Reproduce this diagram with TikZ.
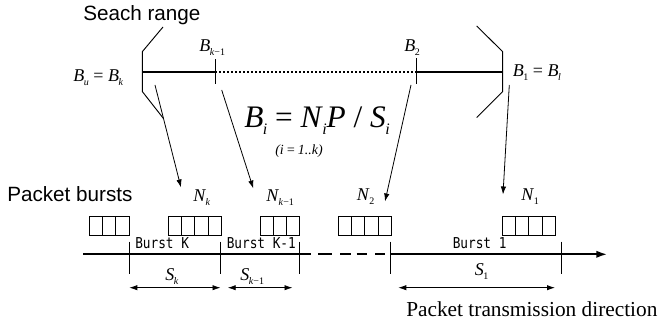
\documentclass[tikz,border=0pt]{standalone}
\usepackage{fontspec}
\setmainfont{Liberation Serif}
\newfontfamily\sansf{Liberation Sans}
\newfontfamily\burstfont[FakeStretch=0.85]{DejaVu Sans Mono}
\usetikzlibrary{arrows.meta}
\newcommand\mvar[2]{\textit{#1}\kern-0.02em\raisebox{-0.45ex}{\fontsize{7.5}{8}\selectfont #2}}
\newcommand\bvar[2]{\textit{#1}\kern-0.02em\raisebox{-0.5ex}{\fontsize{12}{13}\selectfont #2}}
\begin{document}
\begin{tikzpicture}[x=0.75pt,y=-0.75pt,
  lbl/.style={inner sep=0pt,font=\fontsize{13.5}{15}\selectfont},
  sanslbl/.style={inner sep=0pt,font=\sansf\fontsize{15.5}{18}\selectfont},
  burstlbl/.style={inner sep=0pt,font=\burstfont\fontsize{11.25}{13}\selectfont},
  lead/.style={line width=0.6pt,-{Latex[length=6pt,width=4pt]}},
  dim/.style={line width=0.6pt,{Latex[length=6pt,width=4pt]}-{Latex[length=6pt,width=4pt]}},
  bar/.style={line width=0.7pt},
  heavy/.style={line width=1.7pt},
  cell/.style={line width=0.6pt}]
\useasboundingbox (0,0) rectangle (665,331);

% ---- labels ----
\node[sanslbl,anchor=base west] (search) at (83,21) {Seach range};
\node[sanslbl,anchor=base west] (bursts) at (7,201.5) {Packet bursts};
\node[inner sep=0pt,anchor=base west,font=\fontsize{16}{19}\selectfont] (dir) at (406,316.5) {Packet transmission direction};

\node[lbl,anchor=base west] (bu) at (73,81.5) {\mvar{B}{\textit{u}} = \mvar{B}{\textit{k}}};
\node[lbl,anchor=base west] (bkm) at (199,51.5) {\mvar{B}{\textit{k}−1}};
\node[lbl,anchor=base west] (b2) at (404,51.5) {\mvar{B}{2}};
\node[lbl,anchor=base west] (b1) at (512.5,76.5) {\mvar{B}{1} = \mvar{B}{\textit{l}}};

\node[inner sep=0pt,anchor=base west,font=\fontsize{23.5}{27}\selectfont] (formula) at (244,127.5)
  {\bvar{B}{\textit{i}} = \bvar{N}{\textit{i}}\textit{P} / \bvar{S}{\textit{i}}};
\node[inner sep=0pt,anchor=base west,font=\itshape\fontsize{10.5}{12}\selectfont] (range) at (275,155) {(i\,=\,1..k)};

\node[lbl,anchor=base west] (nk) at (193,202) {\mvar{N}{\textit{k}}};
\node[lbl,anchor=base west] (nkm) at (266,202) {\mvar{N}{\textit{k}−1}};
\node[lbl,anchor=base west] (n2) at (356.5,201) {\mvar{N}{2}};
\node[lbl,anchor=base west] (n1) at (521,201) {\mvar{N}{1}};

\node[lbl,anchor=base west] (sk) at (165,280.5) {\mvar{S}{\textit{k}}};
\node[lbl,anchor=base west] (skm) at (240,280.5) {\mvar{S}{\textit{k}−1}};
\node[lbl,anchor=base west] (s1) at (474.5,275.5) {\mvar{S}{1}};

\node[burstlbl,anchor=base west] (burstk) at (135,248.3) {Burst K};
\node[burstlbl,anchor=base west] (burstkm) at (226.5,248.3) {Burst K-1};
\node[burstlbl,anchor=base west] (burst1) at (452.5,248.3) {Burst 1};

% ---- top search range ----
\coordinate (L) at (142.3,72.3);
\coordinate (Ltop) at (142.3,51.7);
\coordinate (Lbot) at (142.3,91.5);
\coordinate (Ltip) at (163,27);
\coordinate (Lend) at (163.3,118.3);
\coordinate (R) at (502.7,72.3);
\coordinate (Rtop) at (502.7,51.7);
\coordinate (Rbot) at (502.7,91.5);
\coordinate (Rtip) at (476.7,26);
\coordinate (Rend) at (476.7,117.5);
\coordinate (Tk) at (215,72.3);
\coordinate (Tkt) at (215,59.3);
\coordinate (Tkb) at (215,84.5);
\coordinate (T2) at (416.7,72.3);
\coordinate (T2t) at (416.7,58.5);
\coordinate (T2b) at (416.7,84.5);

\draw[bar] (Ltip) -- (Ltop) -- (Lbot) -- (Lend);
\draw[bar] (Rtip) -- (Rtop) -- (Rbot) -- (Rend);
\draw[heavy] (L) -- (Tk);
\draw[line width=1.7pt,dash pattern=on 1.6pt off 1.4pt] (Tk) -- (T2);
\draw[heavy] (T2) -- (R);
\draw[bar] (Tkt) -- (Tkb);
\draw[bar] (T2t) -- (T2b);

% ---- leaders ----
\coordinate (a1s) at (155,85);   \coordinate (a1e) at (181,187.5);
\coordinate (a2s) at (221.7,90); \coordinate (a2e) at (253.3,188.5);
\coordinate (a3s) at (411,85);   \coordinate (a3e) at (385,201.5);
\coordinate (a4s) at (509.3,85); \coordinate (a4e) at (503,194.5);
\draw[lead] (a1s) -- (a1e);
\draw[lead] (a2s) -- (a2e);
\draw[lead] (a3s) -- (a3e);
\draw[lead] (a4s) -- (a4e);

% ---- packet cells ----
\foreach \x/\n in {89.3/3, 168.3/4, 260/3, 338.3/4, 502.3/4} {
  \foreach \j in {1,...,\n} {
    \draw[cell] ({\x+(\j-1)*13.2},216) rectangle ({\x+\j*13.2},235);
  }
}

% ---- transmission line ----
\coordinate (base0) at (83.3,254.3);
\coordinate (base1) at (311,254.3);
\coordinate (base2) at (390.7,254.3);
\coordinate (base3) at (607,254.3);
\draw[line width=1.5pt] (base0) -- (base1);
\foreach \a/\b in {318.3/331.7, 340/350.5, 356.7/367.3, 375/385} {
  \draw[line width=1.5pt] (\a,254.3) -- (\b,254.3);
}
\draw[line width=1.2pt,-{Latex[length=8pt,width=5.5pt]}] (base2) -- (base3);

\foreach \x/\nm in {129.3/t1, 220.7/t2, 299.3/t3, 390.7/t4, 561/t5} {
  \coordinate (\nm a) at (\x,241.7);
  \coordinate (\nm b) at (\x,274);
  \draw[bar] (\nm a) -- (\nm b);
}

% ---- dimension arrows ----
\coordinate (d1a) at (129.3,287.7); \coordinate (d1b) at (220.5,287.7);
\coordinate (d2a) at (227.7,287.7); \coordinate (d2b) at (292.5,287.7);
\coordinate (d3a) at (398.3,287.7); \coordinate (d3b) at (555,287.7);
\draw[dim] (d1a) -- (d1b);
\draw[dim] (d2a) -- (d2b);
\draw[dim] (d3a) -- (d3b);
\end{tikzpicture}
\end{document}
